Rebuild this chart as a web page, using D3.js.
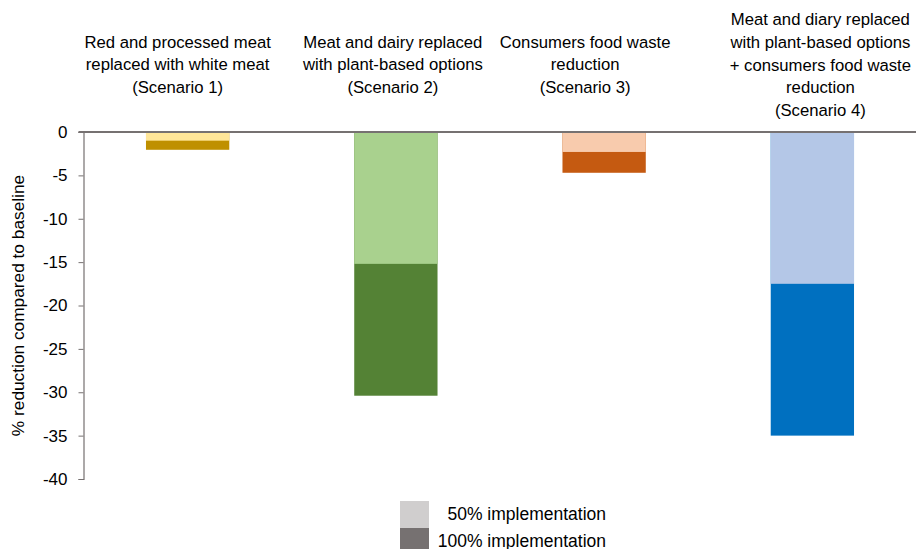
<!DOCTYPE html>
<html>
<head>
<meta charset="utf-8">
<script src="https://cdn.jsdelivr.net/npm/d3@7"></script>
<style>
  html, body { margin: 0; padding: 0; background: #fff; }
  svg { display: block; font-family: "Liberation Sans", Arial, sans-serif; }
</style>
</head>
<body>
<svg id="chart" width="916" height="549"></svg>
<script>
// ---- data ----
const categories = ["Scenario 1", "Scenario 2", "Scenario 3", "Scenario 4"];
const titles = [
  ["Red and processed meat", "replaced with white meat", "(Scenario 1)"],
  ["Meat and dairy replaced", "with plant-based options", "(Scenario 2)"],
  ["Consumers food waste", "reduction", "(Scenario 3)"],
  ["Meat and diary replaced", "with plant-based options", "+ consumers food waste", "reduction", "(Scenario 4)"]
];
const impl50 = [-1.0, -15.2, -2.3, -17.5];
const impl100 = [-2.05, -30.4, -4.7, -35.0];
const yTicks = [0, -5, -10, -15, -20, -25, -30, -35, -40];
const legendLabels = ["50% implementation", "100% implementation"];

// ---- styles ----
const lightColors = ["#FFE699", "#A9D18E", "#F8CBAD", "#B4C7E7"];
const darkColors = ["#BF9000", "#548235", "#C55A11", "#0070C0"];
const legendColors = ["#D0CECE", "#767171"];
const axisColor = "#767171";
const titleOffsets = [-10, -3, -19, 8];

const svg = d3.select("#chart");
const margin = { left: 83.5 };
const W = 916;
const plotRight = 916.5;

const x = d3.scaleBand().domain(categories).range([margin.left, plotRight]).paddingInner(0.6).paddingOuter(0.3);
const y = d3.scaleLinear().domain([0, -40]).range([132, 479]);

// bars: 100% first, 50% overlaid
const g = svg.append("g");
g.selectAll("rect.full").data(categories).enter().append("rect")
  .attr("x", d => x(d))
  .attr("width", x.bandwidth())
  .attr("y", y(0))
  .attr("height", (d, i) => y(impl100[i]) - y(0))
  .attr("fill", (d, i) => darkColors[i]);
g.selectAll("rect.half").data(categories).enter().append("rect")
  .attr("x", d => x(d))
  .attr("width", x.bandwidth())
  .attr("y", y(0))
  .attr("height", (d, i) => y(impl50[i]) - y(0))
  .attr("fill", (d, i) => lightColors[i]);

// y axis
const yAxis = d3.axisLeft(y).tickValues(yTicks).tickSize(5).tickPadding(11).tickFormat(d => String(d));
const ya = svg.append("g").attr("transform", `translate(${margin.left},0)`).call(yAxis);
ya.select(".domain").attr("stroke", axisColor).attr("stroke-width", 1.2);
ya.selectAll(".tick line").attr("stroke", axisColor).attr("stroke-width", 1);
ya.selectAll(".tick text").attr("fill", "#000").style("font-size", "17px")
  .style("font-family", "'Liberation Sans', Arial, sans-serif");

// zero line
svg.append("line")
  .attr("x1", margin.left - 5).attr("x2", W)
  .attr("y1", y(0)).attr("y2", y(0))
  .attr("stroke", axisColor).attr("stroke-width", 2);

// y axis title
svg.append("text")
  .attr("transform", `translate(24,${(y(0) + y(-40)) / 2}) rotate(-90)`)
  .attr("text-anchor", "middle")
  .style("font-size", "17.3px")
  .attr("fill", "#000")
  .text("% reduction compared to baseline");

// category titles
const lineH = 22.7;
categories.forEach((c, i) => {
  const lines = titles[i];
  const cx = x(c) + x.bandwidth() / 2 + titleOffsets[i];
  const lastBaseline = i === 3 ? 116 : 93;
  const t = svg.append("text").attr("text-anchor", "middle").style("font-size", "16.7px").attr("fill", "#000");
  lines.forEach((ln, j) => {
    t.append("tspan").attr("x", cx)
      .attr("y", lastBaseline - (lines.length - 1 - j) * lineH)
      .text(ln);
  });
});

// legend
const lg = svg.append("g");
legendLabels.forEach((lab, i) => {
  lg.append("rect").attr("x", 400).attr("y", 501 + i * 27).attr("width", 29).attr("height", 27).attr("fill", legendColors[i]);
  lg.append("text").attr("x", 606).attr("y", 520 + i * 27).attr("text-anchor", "end")
    .style("font-size", "17.5px").attr("fill", "#000").text(lab);
});
</script>
</body>
</html>
